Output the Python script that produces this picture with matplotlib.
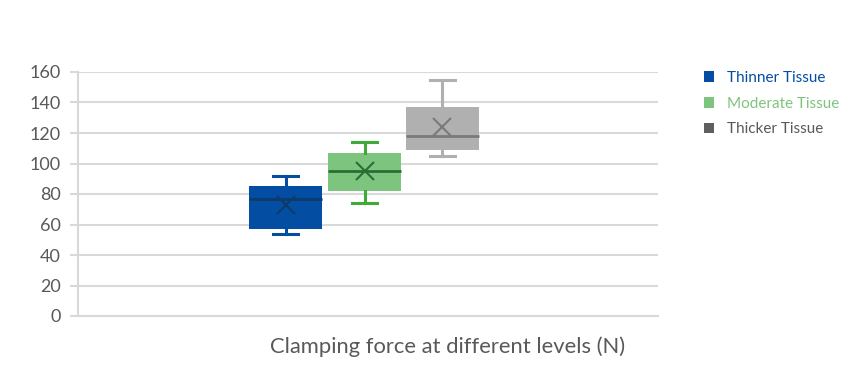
import numpy as np
import matplotlib as mpl
mpl.use('Agg')
import matplotlib.pyplot as plt
from matplotlib.patches import Patch

# box stats (N)
groups = ['Thinner Tissue', 'Moderate Tissue', 'Thicker Tissue']
whislo = [54, 74, 105]
q1 = [57, 82, 109]
med = [77, 95, 118]
q3 = [85, 107, 137]
whishi = [92, 114, 155]
means = [73, 95, 124]

fill_colors = ['#034EA2', '#7DC47F', '#B0B0B0']
line_colors = ['#034EA2', '#3EAA3A', '#B0B0B0']
dark_colors = ['#0E3A6A', '#2B6E35', '#7A7A7A']
legend_marker = ['#034EA2', '#7DC47F', '#5F5F5F']
legend_text = ['#034EA2', '#7DC47F', '#595959']

plt.rcParams['font.family'] = ['Lato', 'DejaVu Sans']

fig = plt.figure(figsize=(8.49, 3.91), dpi=100)
ax = fig.add_axes([78/849, 1-316/391, 580/849, 244/391])

positions = [0.358, 0.494, 0.628]
width = 0.126

for i in range(len(groups)):
    stats = [dict(whislo=whislo[i], q1=q1[i], med=med[i], q3=q3[i],
                  whishi=whishi[i], mean=means[i], fliers=[])]
    ax.bxp(stats, positions=[positions[i]], widths=width, showmeans=True,
           patch_artist=True, capwidths=width*0.34,
           boxprops=dict(facecolor=fill_colors[i], edgecolor='none'),
           whiskerprops=dict(color=line_colors[i], linewidth=2.2),
           capprops=dict(color=line_colors[i], linewidth=2.2),
           medianprops=dict(color=dark_colors[i], linewidth=2),
           meanprops=dict(marker='x', markeredgecolor=dark_colors[i],
                          markersize=13, markeredgewidth=1.5),
           manage_ticks=False, zorder=3)

ax.set_xlim(0, 1)
ax.set_ylim(0, 160)
ax.set_yticks(np.arange(0, 161, 20))
ax.set_xticks([])
ax.grid(axis='y', color='#D9D9D9', linewidth=1.5, zorder=0)
for s in ['top', 'right']:
    ax.spines[s].set_visible(False)
ax.spines['left'].set_color('#D9D9D9')
ax.spines['bottom'].set_color('#D9D9D9')
ax.spines['left'].set_linewidth(1.5)
ax.spines['bottom'].set_linewidth(1.5)
ax.tick_params(axis='y', length=6, width=1.5, color='#D9D9D9',
               labelsize=13, labelcolor='#595959', pad=6.5)

fig.text(448/849, 1-347/391, 'Clamping force at different levels (N)',
         ha='center', va='center', fontsize=15.8, color='#595959')

handles = [Patch(facecolor=c) for c in legend_marker]
leg = fig.legend(handles, groups, loc='upper left', bbox_to_anchor=(696/849, 1-63/391),
                 frameon=False, fontsize=11, handlelength=0.7, handleheight=0.7,
                 handletextpad=0.8, labelspacing=0.78, borderpad=0)
for t, c in zip(leg.get_texts(), legend_text):
    t.set_color(c)

fig.savefig('out.png', dpi=100)
